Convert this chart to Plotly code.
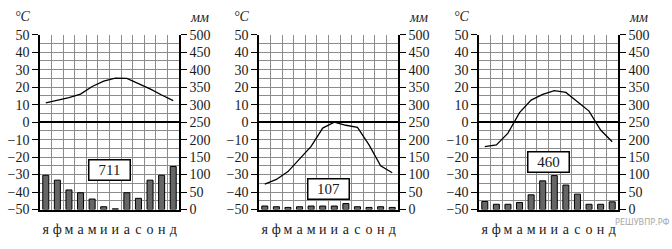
import plotly.graph_objects as go

MONTHS = ["я", "ф", "м", "а", "м", "и", "и", "а", "с", "о", "н", "д"]

TEMP_1 = [11, 12.3, 14, 16, 20.4, 23.4, 25.2, 25, 22, 19, 15.5, 12.3]
PREC_1 = [98, 84, 56, 48, 30, 8, 2, 48, 32, 84, 98, 123]
TOTAL_1 = "711"

TEMP_2 = [-35.5, -32.8, -28.3, -21, -13.9, -3.4, 0, -1.8, -3, -13, -25, -29]
PREC_2 = [10, 8, 6, 8, 10, 10, 10, 17, 8, 6, 8, 6]
TOTAL_2 = "107"

TEMP_3 = [-14, -13, -6.3, 5.4, 12.6, 15.9, 18, 17, 11.7, 6.3, -4.5, -11.2]
PREC_3 = [23, 15, 15, 20, 42, 82, 97, 70, 44, 15, 15, 22]
TOTAL_3 = "460"

TEMP_TICKS = [50, 40, 30, 20, 10, 0, -10, -20, -30, -40, -50]
PREC_TICKS = [500, 450, 400, 350, 300, 250, 200, 150, 100, 50, 0]
WATERMARK = "РЕШУВПР.РФ"

panels = [
    (TEMP_1, PREC_1, TOTAL_1, -27.5),
    (TEMP_2, PREC_2, TOTAL_2, -38.0),
    (TEMP_3, PREC_3, TOTAL_3, -23.0),
]

W, H = 672, 249
x_px = [(40, 179), (259, 398), (479, 618)]
y_dom = [1 - 215.5 / H, 1 - 29.5 / H]

FONT = "Liberation Serif"
TXT = "#1a1a1a"
GRID = "#8c8c8c"

xpos = [i + 0.5 for i in range(len(MONTHS))]

fig = go.Figure()
layout = dict(
    width=W, height=H, margin=dict(l=0, r=0, t=0, b=0),
    paper_bgcolor="white", plot_bgcolor="white", showlegend=False,
    font=dict(family=FONT, size=14, color=TXT),
    bargap=0.5,
)
annotations = []

for k, (temp, prec, total, box_y) in enumerate(panels):
    i = k + 1
    xa = f"x{i}"
    yt = f"y{2*i-1}"
    yp = f"y{2*i}"
    xkey = "xaxis" if i == 1 else f"xaxis{i}"
    ytkey = "yaxis" if 2 * i - 1 == 1 else f"yaxis{2*i-1}"
    ypkey = f"yaxis{2*i}"
    xa_ref = "x" if i == 1 else xa
    yt_ref = "y" if 2 * i - 1 == 1 else yt

    fig.add_trace(go.Bar(
        x=xpos, y=prec, xaxis=xa_ref, yaxis=yp,
        marker=dict(color="#666666", line=dict(color="black", width=1)),
        width=0.52, hoverinfo="skip"))
    fig.add_trace(go.Scatter(
        x=xpos, y=temp, xaxis=xa_ref, yaxis=yt_ref, mode="lines",
        line=dict(color="black", width=1.3), hoverinfo="skip"))

    x0, x1 = x_px[k]
    dom = [x0 / W, x1 / W]
    layout[xkey] = dict(
        domain=dom, anchor=yt_ref, range=[0, 12],
        tickmode="array", tickvals=xpos, ticktext=MONTHS,
        ticks="", showgrid=False, zeroline=False, ticklabelstandoff=6,
        showline=True, linecolor="black", linewidth=1.5,
        tickfont=dict(family=FONT, size=14, color=TXT),
        minor=dict(tickmode="array", tickvals=list(range(13)),
                   showgrid=True, gridcolor=GRID, gridwidth=1, ticks=""),
        fixedrange=True,
    )
    layout[ytkey] = dict(
        domain=y_dom, anchor=xa_ref, range=[-50, 50],
        tickmode="array", tickvals=TEMP_TICKS,
        ticktext=[("\u2212" + str(abs(v))) if v < 0 else str(v) for v in TEMP_TICKS],
        ticks="outside", ticklen=6, tickcolor="black", tickwidth=1,
        showgrid=True, gridcolor=GRID, gridwidth=1,
        zeroline=True, zerolinecolor="black", zerolinewidth=1.5,
        showline=True, linecolor="black", linewidth=1.5,
        minor=dict(dtick=5, tick0=0, showgrid=True, gridcolor=GRID, gridwidth=1, ticks=""),
        tickfont=dict(family=FONT, size=14, color=TXT),
        fixedrange=True,
    )
    layout[ypkey] = dict(
        overlaying=yt_ref, anchor=xa_ref, side="right", range=[0, 500],
        tickmode="array", tickvals=PREC_TICKS, ticktext=[str(v) for v in PREC_TICKS],
        ticks="outside", ticklen=6, tickcolor="black", tickwidth=1,
        showgrid=False, zeroline=False,
        showline=True, linecolor="black", linewidth=1.5,
        tickfont=dict(family=FONT, size=14, color=TXT),
        fixedrange=True,
    )

    annotations.append(dict(
        x=6, y=box_y, xref=xa_ref, yref=yt_ref, text=total, showarrow=False,
        font=dict(family=FONT, size=15, color=TXT),
        bgcolor="white", bordercolor="black", borderwidth=1.5,
        width=38, height=17, borderpad=1))
    annotations.append(dict(
        x=(x0 - 17) / W, y=1 - 10 / H, xref="paper", yref="paper",
        text="<i>°C</i>", showarrow=False, xanchor="center", yanchor="middle",
        font=dict(family=FONT, size=14, color=TXT)))
    annotations.append(dict(
        x=(x1 + 20) / W, y=1 - 11 / H, xref="paper", yref="paper",
        text="<i>мм</i>", showarrow=False, xanchor="center", yanchor="middle",
        font=dict(family=FONT, size=14, color=TXT)))

annotations.append(dict(
    x=1.0, y=1 - 229 / H, xref="paper", yref="paper", text=WATERMARK,
    showarrow=False, xanchor="right", yanchor="middle",
    font=dict(family="DejaVu Sans Condensed, DejaVu Sans", size=9, color="#a8a8a8")))

layout["annotations"] = annotations
fig.update_layout(**layout)
fig.write_html("out.html", config={"displayModeBar": False})
